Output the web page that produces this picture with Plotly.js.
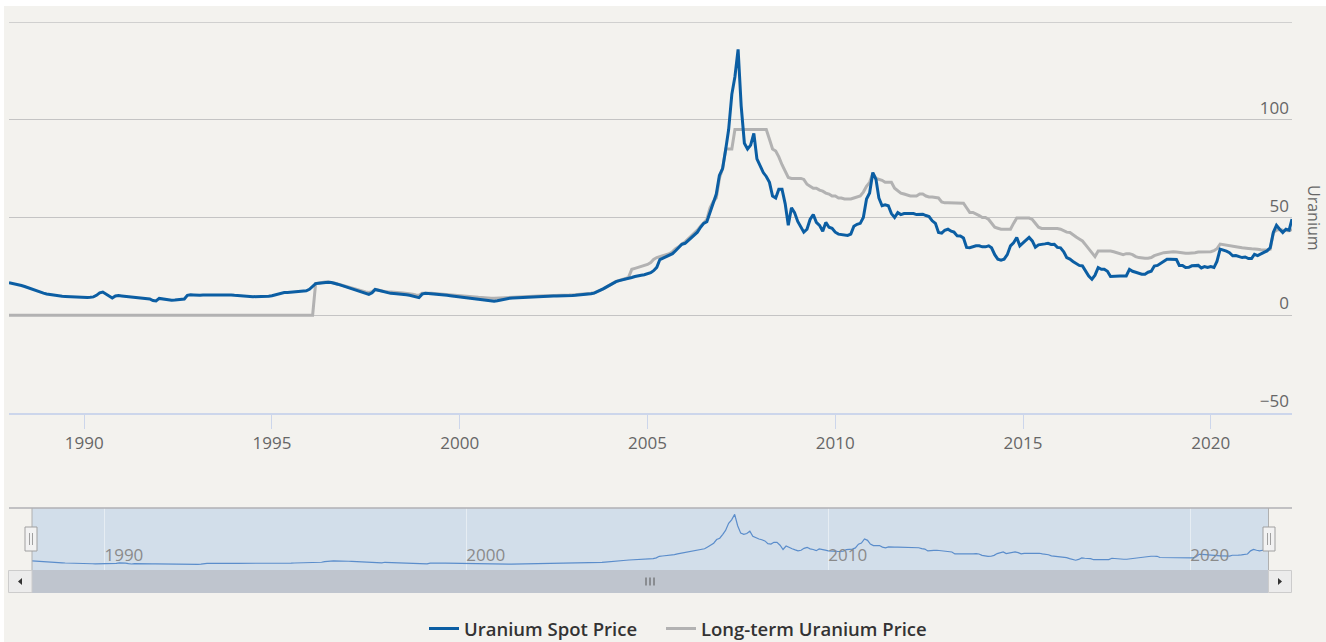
<!DOCTYPE html>
<html>
<head>
<meta charset="utf-8">
<script src="https://cdn.plot.ly/plotly-3.0.1.min.js"></script>
<style>
  html, body { margin: 0; padding: 0; background: #ffffff; }
  #chart { position: absolute; left: 4px; top: 6px; width: 1322px; height: 636px; }
</style>
</head>
<body>
<div id="chart"></div>
<script>
// ---- Data (monthly, first value = Jan 1988) ----
const firstMonth = '1988-01';
const seriesNames = ['Uranium Spot Price', 'Long-term Uranium Price'];
const yTickVals = [-50, 0, 50, 100, 150];
const yTickText = ['\u221250', '0', '50', '100', ''];

const spotPrice = [
  16.6, 16.3, 16.0, 15.6, 15.2, 14.7, 14.1, 13.5, 12.9, 12.3, 11.8, 11.3, // 1988
  10.9, 10.6, 10.3, 10.0, 9.8, 9.7, 9.6, 9.5, 9.4, 9.3, 9.3, 9.2,         // 1989
  9.2, 9.1, 9.2, 9.4, 10.2, 11.5, 11.9, 11.0, 9.8, 8.8, 9.9, 10.1,        // 1990
  9.9, 9.7, 9.6, 9.4, 9.3, 9.2, 9.1, 8.9, 8.6, 8.3, 7.5, 7.3,             // 1991
  8.6, 8.3, 8.0, 7.8, 7.7, 7.8, 7.9, 8.0, 8.3, 10.2, 10.5, 10.4,          // 1992
  10.2, 10.2, 10.3, 10.3, 10.4, 10.4, 10.5, 10.5, 10.6, 10.6, 10.5, 10.4, // 1993
  10.2, 10.0, 9.9, 9.8, 9.7, 9.6, 9.5, 9.5, 9.4, 9.4, 9.5, 9.7,          // 1994
  10.0, 10.4, 10.9, 11.4, 11.6, 11.7, 11.8, 11.9, 12.0, 12.1, 12.2, 12.5, // 1995
  13.3, 15.0, 16.2, 16.4, 16.6, 16.8, 16.9, 16.7, 16.4, 15.9, 15.4, 14.9, // 1996
  14.5, 14.0, 13.5, 13.0, 12.5, 12.0, 11.3, 10.7, 11.5, 13.2, 12.8, 12.3, // 1997
  11.8, 11.4, 11.2, 11.1, 11.0, 10.9, 10.7, 10.5, 10.2, 9.8, 9.1, 9.0,    // 1998
  10.8, 11.2, 11.1, 11.0, 10.9, 10.8, 10.6, 10.4, 10.2, 10.0, 9.8, 9.7,   // 1999
  9.6, 9.4, 9.2, 9.0, 8.8, 8.5, 8.3, 8.0, 7.8, 7.5, 7.3, 7.2,             // 2000
  7.4, 7.8, 8.3, 8.6, 8.7, 8.8, 8.9, 9.0, 9.1, 9.2, 9.3, 9.4,             // 2001
  9.5, 9.6, 9.7, 9.7, 9.8, 9.8, 9.8, 9.8, 9.8, 9.8, 9.9, 10.0,            // 2002
  10.1, 10.2, 10.3, 10.5, 10.7, 10.9, 11.0, 11.3, 12.0, 12.8, 13.6, 14.5, // 2003
  15.5, 16.3, 17.2, 17.7, 18.0, 18.4, 19.0, 19.3, 19.8, 20.3, 20.5, 20.7, // 2004
  21.2, 21.8, 22.8, 24.5, 28.5, 29.3, 30.0, 30.8, 31.5, 33.0, 34.8, 36.3, // 2005
  36.8, 38.3, 40.0, 41.5, 42.5, 45.0, 47.0, 47.8, 52.5, 57.0, 62.0, 71.5, // 2006
  75.0, 85.0, 95.0, 113.0, 122.0, 136.0, 107.0, 88.0, 85.0, 87.0, 93.0, 80.0, // 2007
  76.0, 73.0, 71.0, 68.0, 61.0, 60.0, 64.5, 64.5, 57.0, 46.0, 55.0, 52.5, // 2008
  48.0, 45.0, 42.5, 44.0, 49.0, 51.5, 47.5, 46.0, 43.0, 47.5, 45.0, 44.5, // 2009
  42.5, 41.5, 41.3, 41.0, 40.8, 41.5, 45.5, 46.5, 47.0, 50.0, 59.5, 62.5, // 2010
  73.0, 69.5, 60.0, 56.0, 56.5, 56.0, 52.0, 50.0, 52.5, 51.5, 52.0, 52.0, // 2011
  52.0, 52.0, 51.5, 51.7, 51.7, 51.0, 50.5, 48.3, 47.0, 42.3, 42.0, 43.5, // 2012
  44.0, 43.0, 42.5, 40.6, 40.5, 39.5, 34.7, 34.5, 35.0, 35.5, 35.5, 35.0, // 2013
  35.0, 35.5, 34.5, 31.0, 28.7, 28.2, 28.7, 31.0, 35.5, 37.0, 39.8, 35.5, // 2014
  37.0, 38.5, 39.8, 38.0, 34.8, 36.0, 36.4, 36.5, 36.8, 36.2, 36.3, 34.7, // 2015
  34.5, 32.5, 29.5, 28.7, 27.5, 26.5, 25.5, 25.2, 22.5, 20.0, 18.4, 20.5, // 2016
  24.4, 23.5, 23.5, 22.5, 19.8, 20.0, 20.1, 20.1, 20.1, 20.1, 23.5, 22.5, // 2017
  22.0, 21.5, 21.0, 21.0, 22.0, 22.5, 25.2, 25.5, 26.5, 27.5, 28.7, 28.7, // 2018
  28.7, 28.5, 25.5, 25.5, 24.4, 24.5, 25.3, 25.5, 25.5, 24.2, 24.9, 24.4, // 2019
  24.9, 24.4, 27.5, 33.8, 33.5, 32.8, 32.0, 30.4, 30.5, 30.0, 29.5, 29.8, // 2020
  29.0, 29.0, 31.2, 30.5, 31.5, 32.2, 32.9, 34.5, 42.5, 46.0, 44.0, 42.3, // 2021
  44.0, 43.5, 49.2                                                          // 2022
];

const longTermPrice = [
  0, 0, 0, 0, 0, 0, 0, 0, 0, 0, 0, 0, // 1988
  0, 0, 0, 0, 0, 0, 0, 0, 0, 0, 0, 0, // 1989
  0, 0, 0, 0, 0, 0, 0, 0, 0, 0, 0, 0, // 1990
  0, 0, 0, 0, 0, 0, 0, 0, 0, 0, 0, 0, // 1991
  0, 0, 0, 0, 0, 0, 0, 0, 0, 0, 0, 0, // 1992
  0, 0, 0, 0, 0, 0, 0, 0, 0, 0, 0, 0, // 1993
  0, 0, 0, 0, 0, 0, 0, 0, 0, 0, 0, 0, // 1994
  0, 0, 0, 0, 0, 0, 0, 0, 0, 0, 0, 0, // 1995
  0, 0, 16.2, 16.5, 16.8, 17.0, 17.0, 16.8, 16.5, 16.0, 15.5, 15.0,     // 1996
  14.6, 14.2, 13.8, 13.3, 12.8, 12.3, 11.9, 11.7, 12.0, 13.2, 12.8, 12.5, // 1997
  12.2, 12.0, 11.8, 11.7, 11.6, 11.5, 11.4, 11.3, 11.1, 10.8, 10.4, 10.2, // 1998
  11.3, 11.4, 11.3, 11.2, 11.1, 11.0, 10.9, 10.8, 10.6, 10.5, 10.4, 10.3, // 1999
  10.2, 10.0, 9.9, 9.8, 9.6, 9.4, 9.2, 9.0, 8.9, 8.8, 8.7, 8.7,          // 2000
  8.8, 8.9, 9.0, 9.2, 9.3, 9.4, 9.5, 9.6, 9.7, 9.8, 9.8, 9.9,            // 2001
  9.9, 10.0, 10.0, 10.0, 10.0, 10.0, 10.0, 10.1, 10.1, 10.1, 10.2, 10.3, // 2002
  10.4, 10.5, 10.6, 10.7, 10.8, 11.0, 11.2, 11.5, 12.0, 12.8, 13.6, 14.5, // 2003
  15.5, 16.5, 17.3, 17.8, 18.2, 18.8, 19.5, 23.5, 24.0, 24.5, 25.0, 25.5, // 2004
  26.0, 27.0, 28.5, 29.5, 30.0, 30.5, 31.0, 31.5, 32.5, 34.0, 35.0, 36.5, // 2005
  37.5, 39.0, 40.5, 42.0, 43.5, 45.5, 47.5, 49.0, 55.0, 58.0, 60.0, 70.0, // 2006
  75.0, 85.0, 85.0, 85.0, 95.0, 95.0, 95.0, 95.0, 95.0, 95.0, 95.0, 95.0, // 2007
  95.0, 95.0, 95.0, 90.0, 85.0, 84.0, 81.0, 77.0, 74.0, 70.5, 70.0, 70.0, // 2008
  70.0, 70.0, 69.5, 67.0, 66.0, 65.0, 65.0, 64.0, 63.5, 62.5, 62.0, 61.0, // 2009
  61.0, 60.0, 60.0, 59.5, 59.5, 59.5, 60.0, 60.5, 61.0, 63.0, 66.0, 68.0, // 2010
  72.5, 70.0, 69.5, 69.0, 68.0, 68.0, 68.0, 65.0, 63.5, 62.5, 62.0, 61.5, // 2011
  61.0, 61.0, 61.0, 62.0, 62.0, 61.0, 60.5, 60.5, 60.3, 60.0, 58.0, 57.5, // 2012
  57.5, 57.5, 57.3, 57.3, 57.3, 57.3, 55.0, 52.6, 52.6, 52.0, 51.0, 50.0, // 2013
  50.0, 49.0, 47.0, 45.0, 44.5, 44.0, 44.0, 44.0, 44.0, 47.0, 49.7, 49.7, // 2014
  49.7, 49.7, 49.7, 49.0, 47.0, 45.0, 44.4, 44.4, 44.4, 44.4, 44.4, 44.4, // 2015
  44.0, 43.0, 42.5, 42.3, 41.0, 40.0, 39.0, 38.0, 36.0, 34.0, 32.0, 30.0, // 2016
  32.9, 33.0, 33.0, 33.0, 32.9, 32.5, 32.0, 31.5, 31.0, 31.5, 31.5, 31.0, // 2017
  30.0, 29.5, 29.2, 29.2, 29.2, 29.5, 30.5, 31.2, 31.5, 32.0, 32.2, 32.4, // 2018
  32.5, 32.3, 32.0, 32.0, 31.7, 31.7, 31.7, 32.0, 32.3, 32.3, 32.4, 32.4, // 2019
  32.5, 33.0, 34.0, 36.4, 36.2, 35.8, 35.5, 35.3, 35.0, 34.8, 34.5, 34.2, // 2020
  34.2, 34.0, 34.0, 33.8, 33.5, 33.4, 33.4, 33.8, 42.3, 43.5, 44.0, 43.5, // 2021
  43.5, 43.2, 44.0                                                          // 2022
];

// month labels for the series (category dates)
function monthList(start, n) {
  const out = [];
  let y = parseInt(start.slice(0, 4), 10), m = parseInt(start.slice(5, 7), 10);
  for (let i = 0; i < n; i++) {
    out.push(y + '-' + String(m).padStart(2, '0') + '-01');
    m++; if (m > 12) { m = 1; y++; }
  }
  return out;
}
const months = monthList(firstMonth, spotPrice.length);
const xRange = [months[0], months[months.length - 1]];

// ---- page geometry (div is offset 4px left, 6px top) ----
const DIV_L = 4, DIV_T = 6, W = 1322, H = 636;
const PL = 9, PR = 1292, PT = 22, PB = 593;   // plot area in page px
const px = X => (X - PL) / (PR - PL);
const py = Y => (PB - Y) / (PB - PT);

const FONT = 'Open Sans, Noto Sans, sans-serif';

const traces = [
  {
    x: months, y: longTermPrice, name: seriesNames[1], type: 'scatter', mode: 'lines',
    line: { color: '#b2b2b2', width: 3 }, xaxis: 'x', yaxis: 'y', legend: 'legend2'
  },
  {
    x: months, y: spotPrice, name: seriesNames[0], type: 'scatter', mode: 'lines',
    line: { color: '#0b5ea3', width: 3 }, xaxis: 'x', yaxis: 'y', legend: 'legend'
  },
  {
    x: months, y: spotPrice, name: 'nav', type: 'scatter', mode: 'lines',
    line: { color: '#5b8dcb', width: 1.2 }, xaxis: 'x2', yaxis: 'y2',
    showlegend: false, hoverinfo: 'skip'
  }
];

const shapes = [
  // top gridline (150)
  { type: 'line', xref: 'paper', yref: 'y', x0: 0, x1: 1, y0: 150, y1: 150,
    line: { color: '#c4c4c4', width: 1.3 }, layer: 'below' },
  // navigator mask
  { type: 'rect', xref: 'x2 domain', yref: 'y2 domain', x0: 0, x1: 1, y0: 0, y1: 1,
    fillcolor: '#d2deea', line: { width: 0 }, layer: 'below' },
  // navigator top outline
  { type: 'line', xref: 'paper', yref: 'paper', x0: 0, x1: 1, y0: py(508), y1: py(508),
    line: { color: '#b1b1b5', width: 1.5 } },
  // mask side borders
  { type: 'line', xref: 'paper', yref: 'paper', x0: px(32), x1: px(32), y0: py(508), y1: py(570),
    line: { color: '#b0b0b0', width: 1 } },
  { type: 'line', xref: 'paper', yref: 'paper', x0: px(1268.5), x1: px(1268.5), y0: py(508), y1: py(570),
    line: { color: '#b0b0b0', width: 1 } },
  // scrollbar track
  { type: 'rect', xref: 'paper', yref: 'paper', x0: px(32), x1: px(1268.5), y0: py(593), y1: py(570),
    fillcolor: '#bfc5ce', line: { width: 0 } },
  // scrollbar buttons
  { type: 'rect', xref: 'paper', yref: 'paper', x0: px(8.5), x1: px(32), y0: py(592.5), y1: py(570.5),
    fillcolor: '#ececec', line: { color: '#cccccc', width: 1 } },
  { type: 'rect', xref: 'paper', yref: 'paper', x0: px(1268.5), x1: px(1291.5), y0: py(592.5), y1: py(570.5),
    fillcolor: '#ececec', line: { color: '#cccccc', width: 1 } },
  // arrows
  { type: 'path', xref: 'paper', yref: 'paper',
    path: `M ${px(18)} ${py(581.5)} L ${px(22)} ${py(578)} L ${px(22)} ${py(585)} Z`,
    fillcolor: '#333333', line: { width: 0 } },
  { type: 'path', xref: 'paper', yref: 'paper',
    path: `M ${px(1282)} ${py(581.5)} L ${px(1278)} ${py(578)} L ${px(1278)} ${py(585)} Z`,
    fillcolor: '#333333', line: { width: 0 } },
  // scrollbar grip
  ...[646, 650, 654].map(X => ({ type: 'line', xref: 'paper', yref: 'paper',
    x0: px(X), x1: px(X), y0: py(577.5), y1: py(585.5), line: { color: '#555555', width: 1 } })),
  // navigator handles
  ...[31, 1269].map(C => ({ type: 'rect', xref: 'paper', yref: 'paper',
    x0: px(C - 6), x1: px(C + 6), y0: py(551), y1: py(527),
    fillcolor: '#f2f2f2', line: { color: '#a0a0a0', width: 1 } })),
  ...[31, 1269].flatMap(C => [C - 1.5, C + 1.5].map(X => ({ type: 'line', xref: 'paper', yref: 'paper',
    x0: px(X), x1: px(X), y0: py(533), y1: py(545), line: { color: '#a0a0a0', width: 1 } })))
];

const legendBase = {
  orientation: 'h', xanchor: 'left', y: py(629), yanchor: 'middle',
  font: { family: FONT, size: 18.5, color: '#333333', weight: 600 },
  itemwidth: 30, bgcolor: 'rgba(0,0,0,0)'
};

const layout = {
  width: W, height: H,
  margin: { l: PL - DIV_L, r: DIV_L + W - PR, t: PT - DIV_T, b: DIV_T + H - PB, pad: 0, autoexpand: false },
  paper_bgcolor: '#f3f2ee', plot_bgcolor: 'rgba(0,0,0,0)',
  font: { family: FONT, color: '#666666', size: 17 },
  showlegend: true,
  legend: Object.assign({}, legendBase, { x: px(424) }),
  legend2: Object.assign({}, legendBase, { x: px(661) }),
  xaxis: {
    type: 'date', range: xRange, domain: [0, 1], anchor: 'y',
    tick0: '1990-01-01', dtick: 'M60', tickformat: '%Y',
    showgrid: false, zeroline: false,
    showline: true, linecolor: '#ccd6eb', linewidth: 2,
    ticks: 'outside', ticklen: 14, tickwidth: 1, tickcolor: '#ccd6eb',
    tickfont: { size: 17, color: '#666666' }, fixedrange: true
  },
  yaxis: {
    domain: [py(413), 1], range: [-50, 150], side: 'right', anchor: 'x',
    tickmode: 'array', tickvals: yTickVals, ticktext: yTickText,
    ticklabelposition: 'inside top',
    showgrid: true, gridcolor: '#c4c4c4', gridwidth: 1.3,
    zeroline: false, showline: false, ticks: '',
    tickfont: { size: 17, color: '#666666' }, fixedrange: true
  },
  xaxis2: {
    type: 'date', range: xRange, domain: [px(32), px(1268.5)], anchor: 'y2',
    tick0: '1990-01-01', dtick: 'M120', tickformat: '%Y',
    ticklabelposition: 'inside right', ticks: '',
    showgrid: true, gridcolor: 'rgba(255,255,255,0.45)', gridwidth: 1,
    zeroline: false, showline: false,
    tickfont: { size: 17, color: '#8a8a8a' }, fixedrange: true
  },
  yaxis2: {
    domain: [py(570), py(508)], range: [-6.6, 152.4], anchor: 'x2',
    showgrid: false, zeroline: false, showline: false, showticklabels: false, ticks: '',
    fixedrange: true
  },
  shapes: shapes,
  annotations: [
    { text: 'Uranium', xref: 'paper', yref: 'paper', x: px(1314), y: py(218),
      xanchor: 'center', yanchor: 'middle', textangle: 90, showarrow: false,
      font: { family: FONT, size: 16, color: '#666666' } }
  ]
};

Plotly.newPlot('chart', traces, layout, { displayModeBar: false, staticPlot: true });
</script>
</body>
</html>
